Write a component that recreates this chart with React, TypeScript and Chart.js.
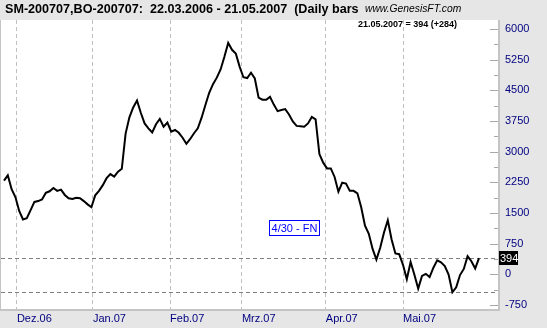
import React, { useEffect, useRef } from "react";
import { Chart, registerables } from "chart.js";

Chart.register(...registerables);

// Daily closes (SM-BO spread), one per trading day
const closes: number[] = [
  2290, 2420, 2080, 1890, 1550, 1340, 1370, 1570, 1770, 1790,
  1830, 1990, 2030, 2110, 2040, 2070, 1940, 1860, 1840, 1870,
  1860, 1790, 1710, 1640, 1930, 2040, 2180, 2350, 2450, 2390,
  2510, 2580, 3440, 3840, 4080, 4250, 3950, 3690, 3570, 3470,
  3670, 3800, 3610, 3710, 3490, 3530, 3460, 3340, 3190, 3310,
  3450, 3570, 3830, 4140, 4440, 4650, 4810, 5010, 5320, 5660,
  5490, 5400, 5080, 4820, 4800, 4930, 4790, 4320, 4270, 4270,
  4340, 4150, 3990, 4020, 4040, 3910, 3740, 3630, 3620, 3610,
  3690, 3850, 3790, 2940, 2730, 2590, 2590, 2380, 2020, 2240,
  2220, 2040, 2040, 1980, 1640, 1190, 990, 620, 360, 650,
  1020, 1320, 850, 510, 490, 230, -120, 300, -10, -350,
  -40, 10, -70, 160, 340, 290, 200, -10, -440, -320,
  -20, 130, 440, 320, 140, 394,
];

const monthLabels: string[] = ["Dez.06", "Jan.07", "Feb.07", "Mrz.07", "Apr.07", "Mai.07"];
const monthTickIdx: number[] = [3.4, 23.4, 43.7, 62.6, 84.7, 105];
const yTickValues: number[] = [-750, 0, 750, 1500, 2250, 3000, 3750, 4500, 5250, 6000];
const yMinorStep = 375;

const titleText = "SM-200707,BO-200707:  22.03.2006 - 21.05.2007  (Daily bars";
const siteText = "www.GenesisFT.com";
const lastText = "21.05.2007 = 394 (+284)";
const noteText = "4/30 - FN";
const lastValue = closes[closes.length - 1];
const minValue = Math.min(...closes);

const BG = "#e6e6e6";
const NAVY = "#000080";
const FONT = "'Liberation Sans', Arial, sans-serif";

const decor = {
  id: "decor",
  beforeDraw(chart: any) {
    const { ctx, chartArea: a, width, height } = chart;
    ctx.save();
    ctx.fillStyle = BG;
    ctx.fillRect(0, 0, width, height);
    ctx.fillStyle = "#ffffff";
    ctx.fillRect(a.left, a.top, a.right - a.left, a.bottom - a.top);
    ctx.restore();
  },
  beforeDatasetsDraw(chart: any) {
    const { ctx, chartArea: a } = chart;
    const ys = chart.scales.y;
    ctx.save();
    // horizontal reference lines
    ctx.setLineDash([4, 3]);
    ctx.strokeStyle = "#808080";
    ctx.lineWidth = 1;
    [lastValue, minValue].forEach((v) => {
      const py = Math.round(ys.getPixelForValue(v)) + 0.5;
      ctx.beginPath();
      ctx.moveTo(a.left, py);
      ctx.lineTo(a.right, py);
      ctx.stroke();
    });
    ctx.setLineDash([]);
    // inner tick marks on the right
    ctx.strokeStyle = "#a8a8a8";
    for (let v = yTickValues[0]; v <= yTickValues[yTickValues.length - 1]; v += yMinorStep) {
      const py = Math.round(ys.getPixelForValue(v)) + 0.5;
      const len = v % 750 === 0 ? 8 : 4;
      ctx.beginPath();
      ctx.moveTo(a.right - len, py);
      ctx.lineTo(a.right, py);
      ctx.stroke();
    }
    // borders
    ctx.strokeStyle = "#c4c4c4";
    ctx.lineWidth = 1;
    ctx.beginPath();
    ctx.moveTo(0.5, a.top);
    ctx.lineTo(0.5, a.bottom + 1);
    ctx.stroke();
    ctx.lineWidth = 2;
    ctx.beginPath();
    ctx.moveTo(a.right + 1, a.top);
    ctx.lineTo(a.right + 1, a.bottom + 2);
    ctx.moveTo(0, a.bottom + 1);
    ctx.lineTo(a.right + 2, a.bottom + 1);
    ctx.stroke();
    ctx.restore();
  },
  afterDraw(chart: any) {
    const { ctx, chartArea: a } = chart;
    const ys = chart.scales.y;
    ctx.save();
    ctx.textBaseline = "middle";
    // title
    ctx.fillStyle = "#000";
    ctx.font = `bold 12.6px ${FONT}`;
    ctx.textAlign = "left";
    ctx.fillText(titleText, 5, 10);
    ctx.font = `italic 10.3px ${FONT}`;
    ctx.fillText(siteText, 365, 9);
    ctx.font = `bold 9px ${FONT}`;
    ctx.textAlign = "right";
    ctx.fillText(lastText, 457, 25);
    // note box
    ctx.fillStyle = "#fff";
    ctx.fillRect(269, 220, 51, 16);
    ctx.strokeStyle = "#0000ff";
    ctx.lineWidth = 1;
    ctx.strokeRect(269.5, 220.5, 50, 15);
    ctx.fillStyle = "#0000ff";
    ctx.font = `11px ${FONT}`;
    ctx.textAlign = "center";
    ctx.fillText(noteText, 294.5, 228.5);
    // last value tag
    const py = Math.round(ys.getPixelForValue(lastValue));
    ctx.fillStyle = "#000";
    ctx.fillRect(a.right + 1, py - 7, 19, 14);
    ctx.fillStyle = "#fff";
    ctx.textAlign = "left";
    ctx.font = `11px ${FONT}`;
    ctx.fillText(String(lastValue), a.right + 2, py + 0.5);
    ctx.restore();
  },
};

export default function App() {
  const ref = useRef<HTMLCanvasElement | null>(null);
  useEffect(() => {
    if (!ref.current) return;
    const chart = new Chart(ref.current, {
      type: "line",
      data: {
        datasets: [
          {
            data: closes.map((v, i) => ({ x: i, y: v })),
            borderColor: "#000000",
            borderWidth: 2,
            pointRadius: 0,
            tension: 0,
            fill: false,
          },
        ],
      },
      options: {
        animation: false,
        responsive: false,
        devicePixelRatio: 1,
        events: [],
        layout: { padding: { top: 20, left: 1, right: 0, bottom: 0 } },
        plugins: { legend: { display: false }, tooltip: { enabled: false }, title: { display: false } },
        scales: {
          x: {
            type: "linear",
            min: -0.79,
            max: 130.0,
            afterBuildTicks: (s: any) => {
              s.ticks = monthTickIdx.map((v) => ({ value: v }));
            },
            afterFit: (s: any) => {
              s.height = 19;
            },
            grid: { display: true, drawTicks: false, color: "#c0c0c0", lineWidth: 1 },
            border: { display: false, dash: [4, 3] },
            ticks: {
              align: "start",
              padding: 3,
              color: NAVY,
              font: { family: FONT, size: 11 },
              maxRotation: 0,
              autoSkip: false,
              callback: (v: any) => {
                const k = monthTickIdx.indexOf(Number(v));
                return k >= 0 ? monthLabels[k] : "";
              },
            },
          },
          y: {
            type: "linear",
            position: "right",
            min: -850,
            max: 6220,
            afterBuildTicks: (s: any) => {
              s.ticks = yTickValues.map((v) => ({ value: v }));
            },
            afterFit: (s: any) => {
              s.width = 49;
            },
            grid: { display: false, drawTicks: false },
            border: { display: false },
            ticks: {
              padding: 7,
              color: NAVY,
              font: { family: FONT, size: 11 },
              callback: (v: any) => String(v),
            },
          },
        },
      },
      plugins: [decor],
    });
    return () => chart.destroy();
  }, []);
  return (
    <div style={{ position: "absolute", left: 0, top: 0, width: 547, height: 328 }}>
      <canvas ref={ref} width={547} height={328} style={{ display: "block" }} />
    </div>
  );
}
